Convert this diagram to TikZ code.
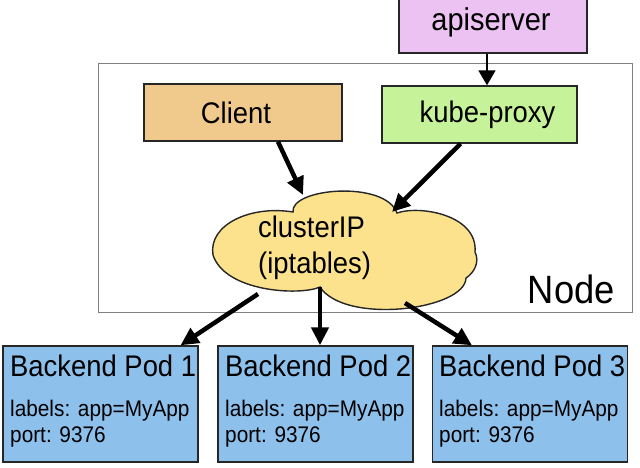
\documentclass[tikz,border=0pt]{standalone}
\usepackage{fontspec}
\setmainfont[FakeStretch=0.92]{Liberation Sans}
\usetikzlibrary{arrows.meta}
\definecolor{apic}{RGB}{236,194,242}
\definecolor{clientc}{RGB}{240,202,140}
\definecolor{kubec}{RGB}{198,242,154}
\definecolor{cloudc}{RGB}{252,226,140}
\definecolor{podc}{RGB}{142,192,236}
\begin{document}
\begin{tikzpicture}[x=1pt,y=-1pt,
  box/.style={draw=black!85, line width=1.4pt, inner sep=0pt},
  big/.style={font=\fontsize{29.8}{33}\selectfont},
  small/.style={font=\fontsize{22.6}{25}\selectfont},
  flow/.style={line width=4.5pt, -{Triangle[length=18pt,width=17pt]}},
  thinflow/.style={line width=1.8pt, -{Triangle[length=15pt,width=17pt]}},
  podbox/.style={box, fill=podc, minimum width=195pt, minimum height=116pt},
  txt/.style={inner sep=0pt, anchor=base west},
]
\useasboundingbox (0,0) rectangle (640,468);
\clip (0,0) rectangle (640,468);
% apiserver
\node[box, fill=apic, minimum width=188pt, minimum height=62pt, font=\fontsize{31.5}{34}\selectfont] (api) at (493,22) {apiserver\hspace*{4pt}};
% node frame
\node[draw=black!50, line width=1pt, minimum width=534pt, minimum height=248pt, inner sep=0pt] (nodebox) at (365,188) {};
\node[inner sep=0pt, anchor=base east, font=\fontsize{39.5}{42}\selectfont] (nodelbl) at (615,303) {Node};
% client and kube-proxy
\node[box, fill=clientc, minimum width=198pt, minimum height=57pt, big] (client) at (243,112.5) {Client\hspace*{14pt}};
\node[box, fill=kubec, minimum width=195pt, minimum height=57pt, big] (kube) at (479.5,114.5) {\hspace*{16pt}kube-proxy};
% cloud
\path[draw=black!85, line width=1.4pt, fill=cloudc]
  (320,287) .. controls (300,296) and (225,292) .. (213,255)
  .. controls (208,225) and (250,205) .. (293,212)
  .. controls (290,188) and (385,180) .. (397,213)
  .. controls (420,205) and (478,215) .. (475,252)
  .. controls (480,262) and (474,273) .. (466,278)
  .. controls (465,310) and (345,325) .. (320,287) -- cycle;
\node[inner sep=0pt, anchor=base west, big] (cl1) at (258,237) {clusterIP};
\node[inner sep=0pt, anchor=base west, big] (cl2) at (258,273) {(iptables)};
\coordinate (cA) at (303,195);
\coordinate (cB) at (392,212);
\coordinate (cP1) at (258,294);
\coordinate (cP2) at (320,287);
\coordinate (cP3) at (405,303);
% pods
\node[podbox] (pod1) at (100.5,404) {};
\node[podbox] (pod2) at (315.5,404) {};
\node[podbox] (pod3) at (530,404) {};
\foreach \p/\x/\n in {pod1/10/1,pod2/225/2,pod3/439/3}{
  \node[txt, big] (\p t) at (\x,376) {Backend Pod \n};
  \node[txt, small] (\p l) at (\x,416) {labels: app=MyApp};
  \node[txt, small] (\p p) at (\x,442) {port: 9376};
}
% connectors
\draw[thinflow] ([xshift=-6pt]api.south) -- ([xshift=7.5pt]kube.north);
\draw[flow] ([xshift=35pt]client.south) -- (cA);
\draw[flow] ([xshift=-19pt]kube.south) -- (cB);
\draw[flow] (cP1) -- ([xshift=80pt]pod1.north);
\draw[flow] (cP2) -- ([xshift=4.5pt]pod2.north);
\draw[flow] (cP3) -- ([xshift=-58pt]pod3.north);
\end{tikzpicture}
\end{document}
